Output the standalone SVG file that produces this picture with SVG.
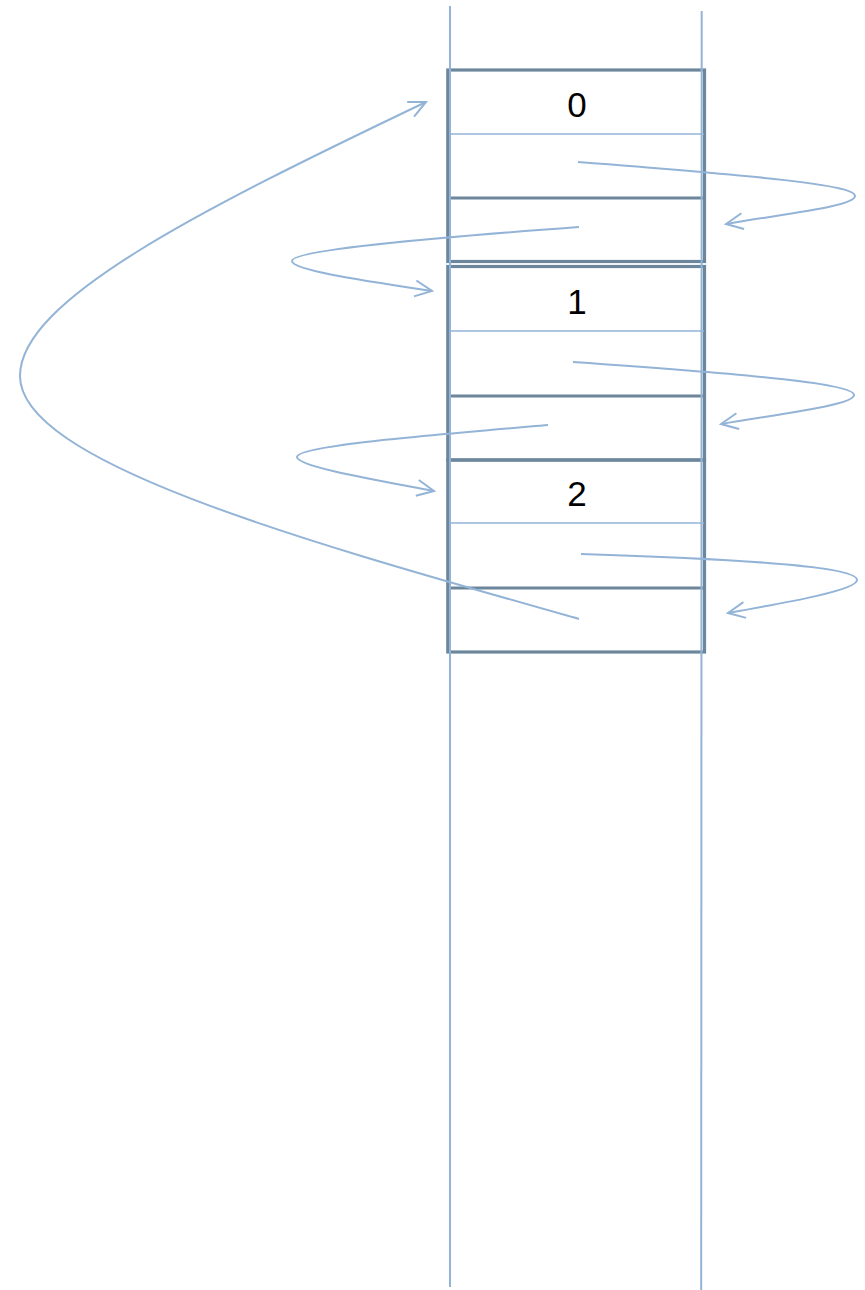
<svg xmlns="http://www.w3.org/2000/svg" width="865" height="1290" viewBox="0 0 865 1290">
  <style>
    .frame { fill: none; stroke: #6c869c; stroke-width: 3.2; }
    .rule { stroke: #6c869c; stroke-width: 3.2; }
    .thin { stroke: #93b4d6; stroke-width: 1.5; }
    .rail { stroke: #93b4d6; stroke-width: 2; }
    .link { fill: none; stroke: #93b4d6; stroke-width: 2; marker-end: url(#vee); }
    .label { font-family: "Liberation Sans", Arial, sans-serif; font-size: 35px; fill: #000; text-anchor: middle; }
  </style>
  <defs>
    <marker id="vee" markerUnits="userSpaceOnUse" markerWidth="24" markerHeight="24" viewBox="-20 -12 24 24" refX="0" refY="0" orient="auto" overflow="visible">
      <path d="M-17,-8 L0,0 L-17,8" fill="none" stroke="#93b4d6" stroke-width="2"/>
    </marker>
  </defs>

  <!-- block 0 -->
  <g id="block0">
    <rect class="frame" x="447.8" y="70" width="256.7" height="191.5"/>
    <line class="thin" x1="449" y1="134" x2="704" y2="134"/>
    <line class="rule" x1="449" y1="198" x2="704" y2="198"/>
    <text class="label" x="577" y="116.5">0</text>
  </g>

  <!-- block 1 -->
  <g id="block1">
    <rect class="frame" x="447.8" y="266.5" width="256.7" height="193.5"/>
    <line class="thin" x1="449" y1="331" x2="704" y2="331"/>
    <line class="rule" x1="449" y1="396" x2="704" y2="396"/>
    <text class="label" x="577" y="313.5">1</text>
  </g>

  <!-- block 2 -->
  <g id="block2">
    <rect class="frame" x="447.8" y="460" width="256.7" height="192"/>
    <line class="thin" x1="449" y1="523" x2="704" y2="523"/>
    <line class="rule" x1="449" y1="588" x2="704" y2="588"/>
    <text class="label" x="577" y="505.5">2</text>
  </g>

  <!-- long rails -->
  <g id="rails">
    <line class="rail" x1="450" y1="6" x2="450" y2="1287"/>
    <line class="rail" x1="701.7" y1="11" x2="701.2" y2="1290"/>
  </g>

  <!-- connectors -->
  <g id="connectors">
    <path class="link" d="M578,162 C760,176 855,185 855,196 C855,206 790,213 726,224"/>
    <path class="link" d="M579,227 C430,238 292,250 292,261 C292,270 360,280 432,291"/>
    <path class="link" d="M573,362 C760,375 854,384 854,395 C854,405 785,413 721,424"/>
    <path class="link" d="M548,425 C420,436 297,446 297,457 C297,466 365,478 434,491"/>
    <path class="link" d="M581,554 C770,560 857,568 857,580 C857,590 790,602 728,613"/>
    <path class="link" d="M579,619 C300,540 20,462 20,376 C20,300 200,210 426,102"/>
  </g>
</svg>
